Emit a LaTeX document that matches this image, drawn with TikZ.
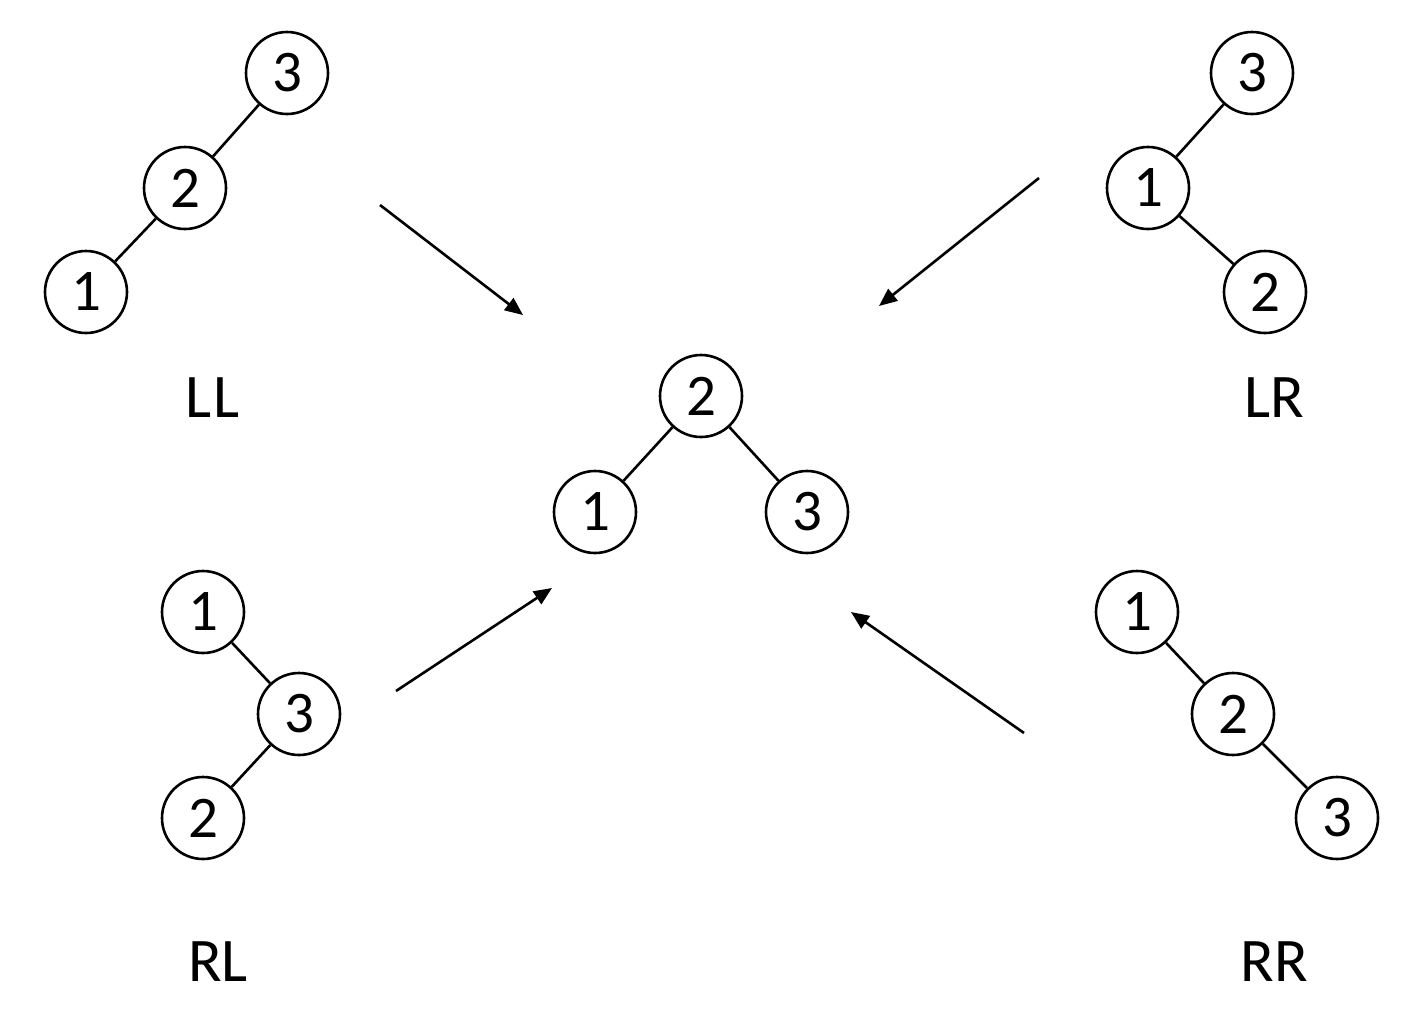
\documentclass[tikz,border=0pt]{standalone}
\usepackage{fontspec}
\setmainfont{Carlito}
\usetikzlibrary{arrows.meta}
\begin{document}
\begin{tikzpicture}[x=1pt,y=-1pt,
  tnode/.style={circle,draw,line width=2.6pt,minimum size=82pt,inner sep=0pt,font=\fontsize{59}{64}\selectfont},
  lbl/.style={font=\fontsize{62}{68}\selectfont,inner sep=0pt},
  edge/.style={line width=2.6pt},
  arr/.style={line width=2.6pt,-{Triangle[length=18pt,width=15pt]}}]
\useasboundingbox (0,0) rectangle (1406,1023);
% LL
\node[tnode] (ll3) at (287,73) {3};
\node[tnode] (ll2) at (185,188) {2};
\node[tnode] (ll1) at (86,292) {1};
\draw[edge] (ll3) -- (ll2);
\draw[edge] (ll2) -- (ll1);
\node[lbl] (lll) at (213,398) {L\kern2pt L};
% LR
\node[tnode] (lr3) at (1252,73) {3};
\node[tnode] (lr1) at (1148,188) {1};
\node[tnode] (lr2) at (1265,292) {2};
\draw[edge] (lr3) -- (lr1);
\draw[edge] (lr1) -- (lr2);
\node[lbl] (lrl) at (1274,398) {LR};
% center
\node[tnode] (c2) at (701,396) {2};
\node[tnode] (c1) at (595,512) {1};
\node[tnode] (c3) at (807,512) {3};
\draw[edge] (c2) -- (c1);
\draw[edge] (c2) -- (c3);
% RL
\node[tnode] (rl1) at (203,612) {1};
\node[tnode] (rl3) at (299,714) {3};
\node[tnode] (rl2) at (203,818) {2};
\draw[edge] (rl1) -- (rl3);
\draw[edge] (rl3) -- (rl2);
\node[lbl] (rll) at (218,962) {RL};
% RR
\node[tnode] (rr1) at (1137,612) {1};
\node[tnode] (rr2) at (1233,714) {2};
\node[tnode] (rr3) at (1337,818) {3};
\draw[edge] (rr1) -- (rr2);
\draw[edge] (rr2) -- (rr3);
\node[lbl] (rrl) at (1274,962) {RR};
% arrows
\coordinate (a1s) at (380,205); \coordinate (a1e) at (523,315);
\coordinate (a2s) at (1039,178); \coordinate (a2e) at (879,306);
\coordinate (a3s) at (396,691); \coordinate (a3e) at (552,588);
\coordinate (a4s) at (1024,733); \coordinate (a4e) at (851,612);
\draw[arr] (a1s) -- (a1e);
\draw[arr] (a2s) -- (a2e);
\draw[arr] (a3s) -- (a3e);
\draw[arr] (a4s) -- (a4e);
\end{tikzpicture}
\end{document}
